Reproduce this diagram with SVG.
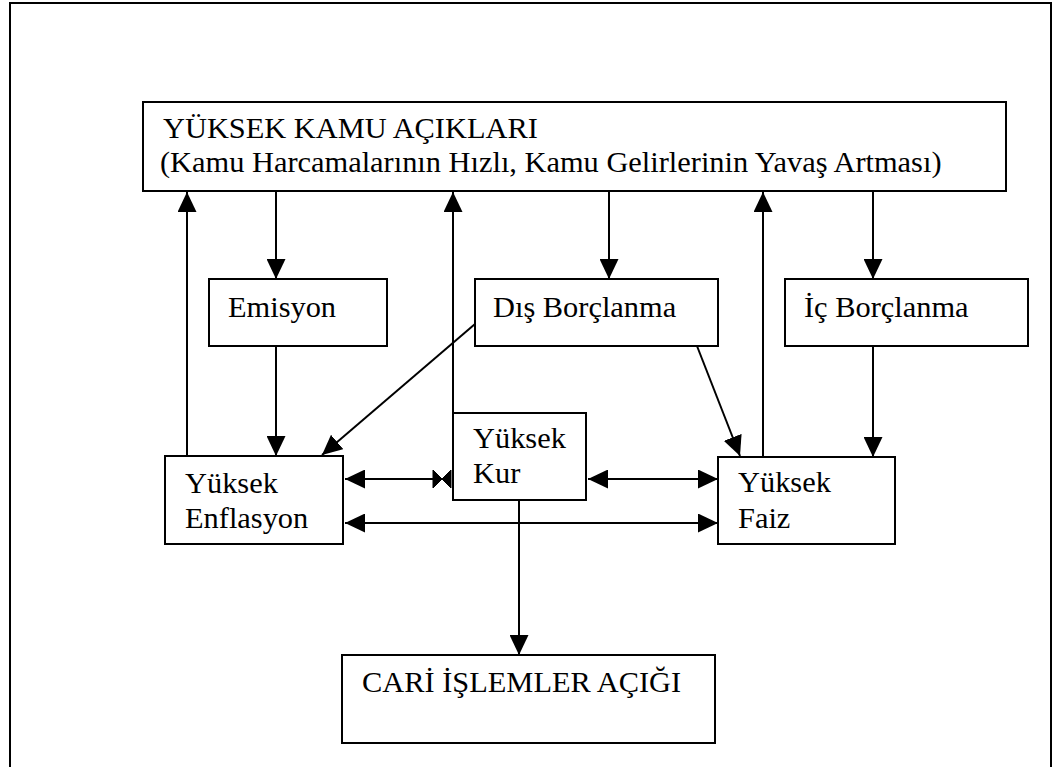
<svg xmlns="http://www.w3.org/2000/svg" width="1063" height="767" viewBox="0 0 1063 767">
<defs>
<style>
.box{fill:#fff;stroke:#000;stroke-width:2}
.t{font-family:"Liberation Serif","Times New Roman",serif;font-size:30.4px;fill:#000}
.c{fill:none;stroke:#000;stroke-width:2}
</style>
<marker id="ah" viewBox="0 0 20 19" refX="20" refY="9.5" markerWidth="20" markerHeight="19" markerUnits="userSpaceOnUse" orient="auto-start-reverse">
<path d="M0,0 L20,9.5 L0,19 z" fill="#000"/>
</marker>
</defs>
<rect x="10" y="3" width="1041" height="780" fill="none" stroke="#000" stroke-width="2"/>
<g id="connectors">
<line class="c" x1="187" y1="456" x2="187" y2="192" marker-end="url(#ah)"/>
<line class="c" x1="276" y1="191" x2="276" y2="279" marker-end="url(#ah)"/>
<line class="c" x1="453" y1="413" x2="453" y2="192" marker-end="url(#ah)"/>
<line class="c" x1="609" y1="191" x2="609" y2="279" marker-end="url(#ah)"/>
<line class="c" x1="763" y1="457" x2="763" y2="192" marker-end="url(#ah)"/>
<line class="c" x1="873" y1="191" x2="873" y2="279" marker-end="url(#ah)"/>
<line class="c" x1="276" y1="346" x2="276" y2="456" marker-end="url(#ah)"/>
<line class="c" x1="873" y1="346" x2="873" y2="457" marker-end="url(#ah)"/>
<line class="c" x1="475" y1="324" x2="322" y2="455" marker-end="url(#ah)"/>
<line class="c" x1="697" y1="346" x2="740" y2="456" marker-end="url(#ah)"/>
<line class="c" x1="345" y1="479" x2="436" y2="479" marker-start="url(#ah)"/>
<path d="M433,470 L442,479 L433,488 z M451,470 L442,479 L451,488 z" fill="#000" stroke="#000" stroke-width="1"/>
<line class="c" x1="588" y1="479" x2="718" y2="479" marker-start="url(#ah)" marker-end="url(#ah)"/>
<line class="c" x1="345" y1="523" x2="718" y2="523" marker-start="url(#ah)" marker-end="url(#ah)"/>
<line class="c" x1="519" y1="500" x2="519" y2="655" marker-end="url(#ah)"/>
</g>
<g id="top">
<rect class="box" x="143" y="102" width="863" height="89"/>
<text class="t" x="163" y="138">YÜKSEK KAMU AÇIKLARI</text>
<text class="t" x="160" y="172">(Kamu Harcamalarının Hızlı, Kamu Gelirlerinin Yavaş Artması)</text>
</g>
<g id="emisyon">
<rect class="box" x="209" y="279" width="178" height="67"/>
<text class="t" x="228" y="317">Emisyon</text>
</g>
<g id="dis">
<rect class="box" x="475" y="279" width="243" height="67"/>
<text class="t" x="493" y="317">Dış Borçlanma</text>
</g>
<g id="ic">
<rect class="box" x="785" y="279" width="243" height="67"/>
<text class="t" x="804" y="317">İç Borçlanma</text>
</g>
<g id="enflasyon">
<rect class="box" x="165" y="456" width="178" height="88"/>
<text class="t" x="185" y="493">Yüksek</text>
<text class="t" x="185" y="528">Enflasyon</text>
</g>
<g id="kur">
<rect class="box" x="453" y="413" width="133" height="87"/>
<text class="t" x="473" y="448">Yüksek</text>
<text class="t" x="473" y="483">Kur</text>
</g>
<g id="faiz">
<rect class="box" x="718" y="457" width="177" height="87"/>
<text class="t" x="738" y="492">Yüksek</text>
<text class="t" x="738" y="528">Faiz</text>
</g>
<g id="cari">
<rect class="box" x="342" y="655" width="373" height="88"/>
<text class="t" x="362" y="692">CARİ İŞLEMLER AÇIĞI</text>
</g>
</svg>
